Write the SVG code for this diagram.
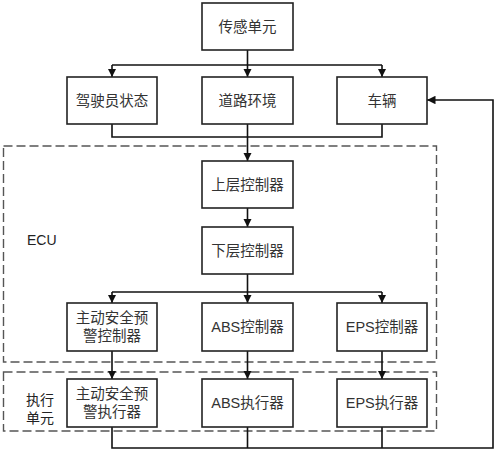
<svg xmlns="http://www.w3.org/2000/svg" width="500" height="454" viewBox="0 0 500 454">
<style>
.box{fill:#fff;stroke:#222;stroke-width:1.6}
.t{font-family:"Liberation Sans","Noto Sans CJK SC",sans-serif;font-size:14.5px;fill:#333;text-anchor:middle;dominant-baseline:central}
.l{font-family:"Liberation Sans","Noto Sans CJK SC",sans-serif;font-size:14px;fill:#222;dominant-baseline:central}
.c{fill:none;stroke:#111;stroke-width:1.6}
.d{fill:none;stroke:#555;stroke-width:1.4;stroke-dasharray:9 4}
</style>
<defs>
<marker id="a" viewBox="0 0 10 10" refX="10" refY="5" markerWidth="8.5" markerHeight="8.5" markerUnits="userSpaceOnUse" orient="auto">
<path d="M0,0 L10,5 L0,10 z" fill="#111"/>
</marker>
</defs>
<rect width="500" height="454" fill="#fff"/>
<g id="groups">
<rect class="d" x="3.5" y="146" width="433" height="216"/>
<rect class="d" x="3.5" y="372" width="433" height="59"/>
<text class="l" x="27" y="240">ECU</text>
<text class="l" x="26" y="400">执行</text>
<text class="l" x="26" y="418">单元</text>
</g>
<g id="connectors">
<path class="c" d="M247.5,50 V65"/>
<path class="c" d="M112,65 H382"/>
<path class="c" d="M112,65 V77" marker-end="url(#a)"/>
<path class="c" d="M247.5,65 V77" marker-end="url(#a)"/>
<path class="c" d="M382,65 V77" marker-end="url(#a)"/>
<path class="c" d="M112,124 V137 H382 V124"/>
<path class="c" d="M247.5,124 V161" marker-end="url(#a)"/>
<path class="c" d="M247.5,208 V227" marker-end="url(#a)"/>
<path class="c" d="M247.5,274 V292"/>
<path class="c" d="M112,292 H382"/>
<path class="c" d="M112,292 V303" marker-end="url(#a)"/>
<path class="c" d="M247.5,292 V303" marker-end="url(#a)"/>
<path class="c" d="M382,292 V303" marker-end="url(#a)"/>
<path class="c" d="M112,351 V379" marker-end="url(#a)"/>
<path class="c" d="M247.5,351 V379" marker-end="url(#a)"/>
<path class="c" d="M382,351 V379" marker-end="url(#a)"/>
<path class="c" d="M112,427 V448 H493 V100 H427" marker-end="url(#a)"/>
<path class="c" d="M247.5,427 V448"/>
<path class="c" d="M382,427 V448"/>
</g>
<g id="sensor"><rect class="box" x="202" y="3" width="91" height="47"/><text class="t" x="247.5" y="26.5">传感单元</text></g>
<g id="driver"><rect class="box" x="67" y="77" width="90" height="47"/><text class="t" x="112" y="100.5">驾驶员状态</text></g>
<g id="road"><rect class="box" x="202" y="77" width="91" height="47"/><text class="t" x="247.5" y="100.5">道路环境</text></g>
<g id="vehicle"><rect class="box" x="337" y="77" width="90" height="47"/><text class="t" x="382" y="100.5">车辆</text></g>
<g id="upper"><rect class="box" x="202" y="161" width="91" height="47"/><text class="t" x="247.5" y="184.5">上层控制器</text></g>
<g id="lower"><rect class="box" x="202" y="227" width="91" height="47"/><text class="t" x="247.5" y="250.5">下层控制器</text></g>
<g id="warnctl"><rect class="box" x="67" y="303" width="90" height="48"/><text class="t" x="112" y="318">主动安全预</text><text class="t" x="112" y="336">警控制器</text></g>
<g id="absctl"><rect class="box" x="202" y="303" width="91" height="48"/><text class="t" x="247.5" y="327">ABS控制器</text></g>
<g id="epsctl"><rect class="box" x="337" y="303" width="90" height="48"/><text class="t" x="382" y="327">EPS控制器</text></g>
<g id="warnact"><rect class="box" x="67" y="379" width="90" height="48"/><text class="t" x="112" y="394">主动安全预</text><text class="t" x="112" y="412">警执行器</text></g>
<g id="absact"><rect class="box" x="202" y="379" width="91" height="48"/><text class="t" x="247.5" y="403">ABS执行器</text></g>
<g id="epsact"><rect class="box" x="337" y="379" width="90" height="48"/><text class="t" x="382" y="403">EPS执行器</text></g>
</svg>
